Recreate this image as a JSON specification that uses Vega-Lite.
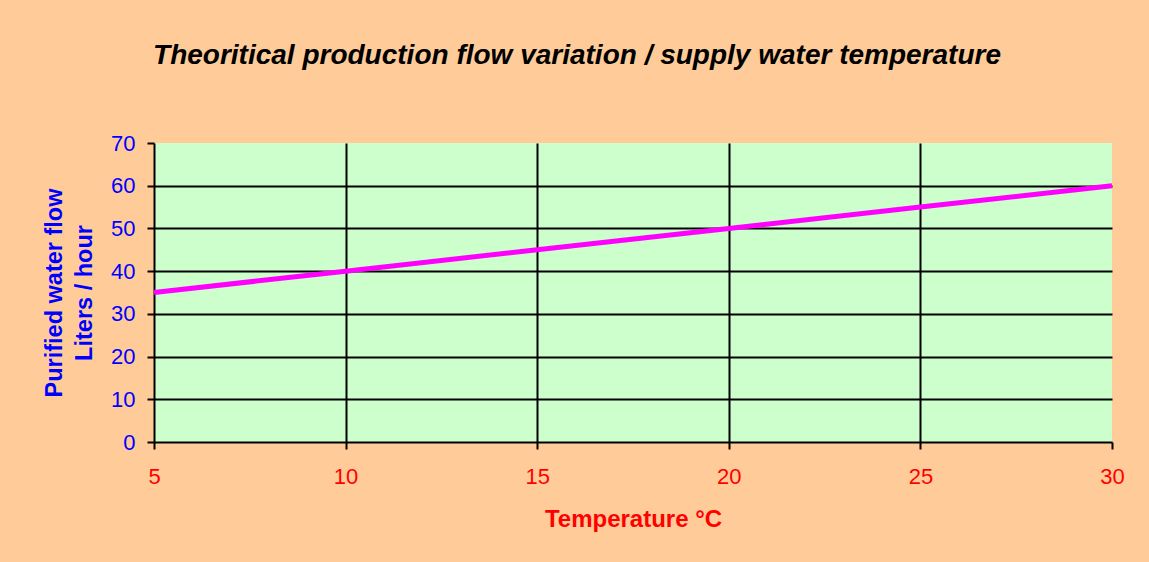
{
  "$schema": "https://vega.github.io/schema/vega-lite/v6.json",
  "autosize": "none",
  "width": 958,
  "height": 299,
  "padding": {"left": 154, "top": 143, "right": 37, "bottom": 120},
  "background": "#FFCC99",
  "title": {
    "text": "Theoritical production flow variation / supply water temperature",
    "font": "Liberation Sans",
    "fontSize": 28,
    "fontWeight": "bold",
    "fontStyle": "italic",
    "color": "#000000",
    "anchor": "middle",
    "dx": -56,
    "baseline": "alphabetic",
    "offset": 40
  },
  "config": {
    "view": {"fill": "#CCFFCC", "stroke": null},
    "font": "Liberation Sans"
  },
  "data": {
    "values": [
      {"temperature": 5, "flow": 35},
      {"temperature": 10, "flow": 40},
      {"temperature": 15, "flow": 45},
      {"temperature": 20, "flow": 50},
      {"temperature": 25, "flow": 55},
      {"temperature": 30, "flow": 60}
    ]
  },
  "mark": {"type": "line", "color": "#FF00FF", "strokeWidth": 5},
  "encoding": {
    "x": {
      "field": "temperature",
      "type": "quantitative",
      "scale": {"domain": [5, 30], "nice": false, "zero": false},
      "axis": {
        "values": [5, 10, 15, 20, 25, 30],
        "title": "Temperature °C",
        "titleColor": "#FF0000",
        "titleFont": "Liberation Sans",
        "titleFontSize": 24,
        "titleFontWeight": "bold",
        "titlePadding": 20,
        "labelColor": "#FF0000",
        "labelFont": "Liberation Sans",
        "labelFontSize": 22,
        "labelPadding": 17,
        "labelFlush": false,
        "domainColor": "#000000",
        "domainWidth": 2,
        "tickColor": "#000000",
        "tickWidth": 2,
        "tickSize": 7,
        "grid": true,
        "gridColor": {"condition": {"test": "datum.value == 30 || datum.value == 5", "value": "transparent"}, "value": "#000000"},
        "gridWidth": 2,
        "gridOpacity": 1
      }
    },
    "y": {
      "field": "flow",
      "type": "quantitative",
      "scale": {"domain": [0, 70], "nice": false},
      "axis": {
        "values": [0, 10, 20, 30, 40, 50, 60, 70],
        "title": ["Purified water flow", "Liters / hour"],
        "titleColor": "#0000FF",
        "titleFont": "Liberation Sans",
        "titleFontSize": 23.5,
        "titleFontWeight": "bold",
        "titleLineHeight": 30,
        "titlePadding": 14,
        "labelColor": "#0000FF",
        "labelFont": "Liberation Sans",
        "labelFontSize": 22,
        "labelPadding": 12,
        "domainColor": "#000000",
        "domainWidth": 2,
        "tickColor": "#000000",
        "tickWidth": 2,
        "tickSize": 7,
        "grid": true,
        "gridColor": {"condition": {"test": "datum.value == 70 || datum.value == 0", "value": "transparent"}, "value": "#000000"},
        "gridWidth": 2,
        "gridOpacity": 1
      }
    }
  }
}
